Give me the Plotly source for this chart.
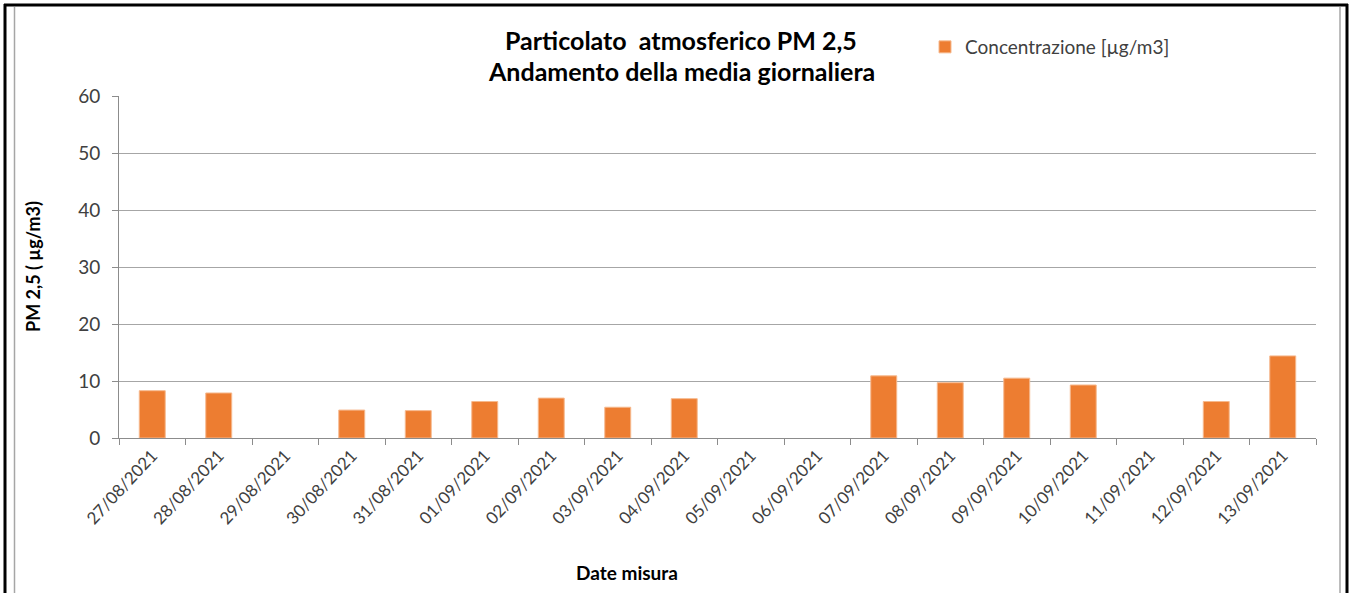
import plotly.graph_objects as go

dates = ["27/08/2021", "28/08/2021", "29/08/2021", "30/08/2021", "31/08/2021",
         "01/09/2021", "02/09/2021", "03/09/2021", "04/09/2021", "05/09/2021",
         "06/09/2021", "07/09/2021", "08/09/2021", "09/09/2021", "10/09/2021",
         "11/09/2021", "12/09/2021", "13/09/2021"]
concentrazione = [8.3, 7.9, None, 4.9, 4.8, 6.4, 7.0, 5.4, 6.9, None,
                  None, 10.9, 9.7, 10.5, 9.3, None, 6.4, 14.4]
y_ticks = [0, 10, 20, 30, 40, 50, 60]

W, H = 1350, 593
L, R, T, B = 119, 1316, 96, 438


def px(x):
    return (x - L) / (R - L)


def py(y):
    return (B - y) / (B - T)


FONT = "Lato"
TXT = "#404040"
GRID = "#A6A6A6"
AX = "#8C8C8C"

fig = go.Figure()
fig.add_trace(go.Bar(
    x=dates, y=concentrazione, name="Concentrazione [µg/m3]",
    marker=dict(color="#ED7D31", line=dict(color="#F6B98E", width=1)),
))

fig.update_layout(
    width=W, height=H,
    margin=dict(l=L, r=W - R, t=T, b=H - B),
    paper_bgcolor="white", plot_bgcolor="white",
    bargap=0.61,
    font=dict(family=FONT, color=TXT, size=15),
    showlegend=True,
    legend=dict(x=px(925), y=py(47), xanchor="left", yanchor="middle",
                font=dict(family=FONT, size=19, color=TXT),
                bgcolor="rgba(0,0,0,0)", itemwidth=30),
)

fig.update_xaxes(
    type="category", categoryorder="array", categoryarray=dates,
    showline=True, linecolor=AX, linewidth=1,
    ticks="outside", tickson="boundaries", ticklen=6, tickcolor=AX,
    tickangle=-47, tickfont=dict(family=FONT, size=17, color=TXT),
    showgrid=False,
)
fig.update_yaxes(
    range=[0, 60], tickvals=y_ticks,
    showline=True, linecolor=AX, linewidth=1,
    ticks="outside", ticklen=6, tickcolor=AX,
    tickfont=dict(family=FONT, size=19, color=TXT),
    ticklabelstandoff=8,
    showgrid=True, gridcolor=GRID, gridwidth=1,
    zeroline=False,
)

anns = [
    dict(text="<b>Particolato  atmosferico PM 2,5</b>", x=px(681), y=py(40),
         font=dict(family=FONT, size=25, color="black")),
    dict(text="<b>Andamento della media giornaliera</b>", x=px(681), y=py(71),
         font=dict(family=FONT, size=25, color="black")),
    dict(text="<b>Date misura</b>", x=px(627), y=py(572),
         font=dict(family=FONT, size=19, color="black")),
    dict(text="<b>PM 2,5 ( µg/m3)</b>", x=px(33), y=py(267), textangle=-90,
         font=dict(family=FONT, size=18, color="black")),
]
for a in anns:
    fig.add_annotation(xref="paper", yref="paper", showarrow=False,
                       xanchor="center", yanchor="middle", **a)

# chart frame
shapes = [
    dict(type="line", x0=px(5), x1=px(5), y0=py(4), y1=py(600), line=dict(color="black", width=3)),
    dict(type="line", x0=px(4), x1=px(1348), y0=py(5), y1=py(5), line=dict(color="black", width=3)),
    dict(type="line", x0=px(1347), x1=px(1347), y0=py(4), y1=py(600), line=dict(color="black", width=3)),
    dict(type="line", x0=px(14.5), x1=px(14.5), y0=py(7), y1=py(600), line=dict(color="#A6A6A6", width=1.5)),
    dict(type="line", x0=px(1340), x1=px(1340), y0=py(7), y1=py(600), line=dict(color="#A6A6A6", width=1.5)),
]
for s in shapes:
    fig.add_shape(xref="paper", yref="paper", layer="above", **s)

fig.write_html("out.html", config={"displayModeBar": False},
               post_script="document.body.style.margin='0';document.body.style.overflow='hidden';")
